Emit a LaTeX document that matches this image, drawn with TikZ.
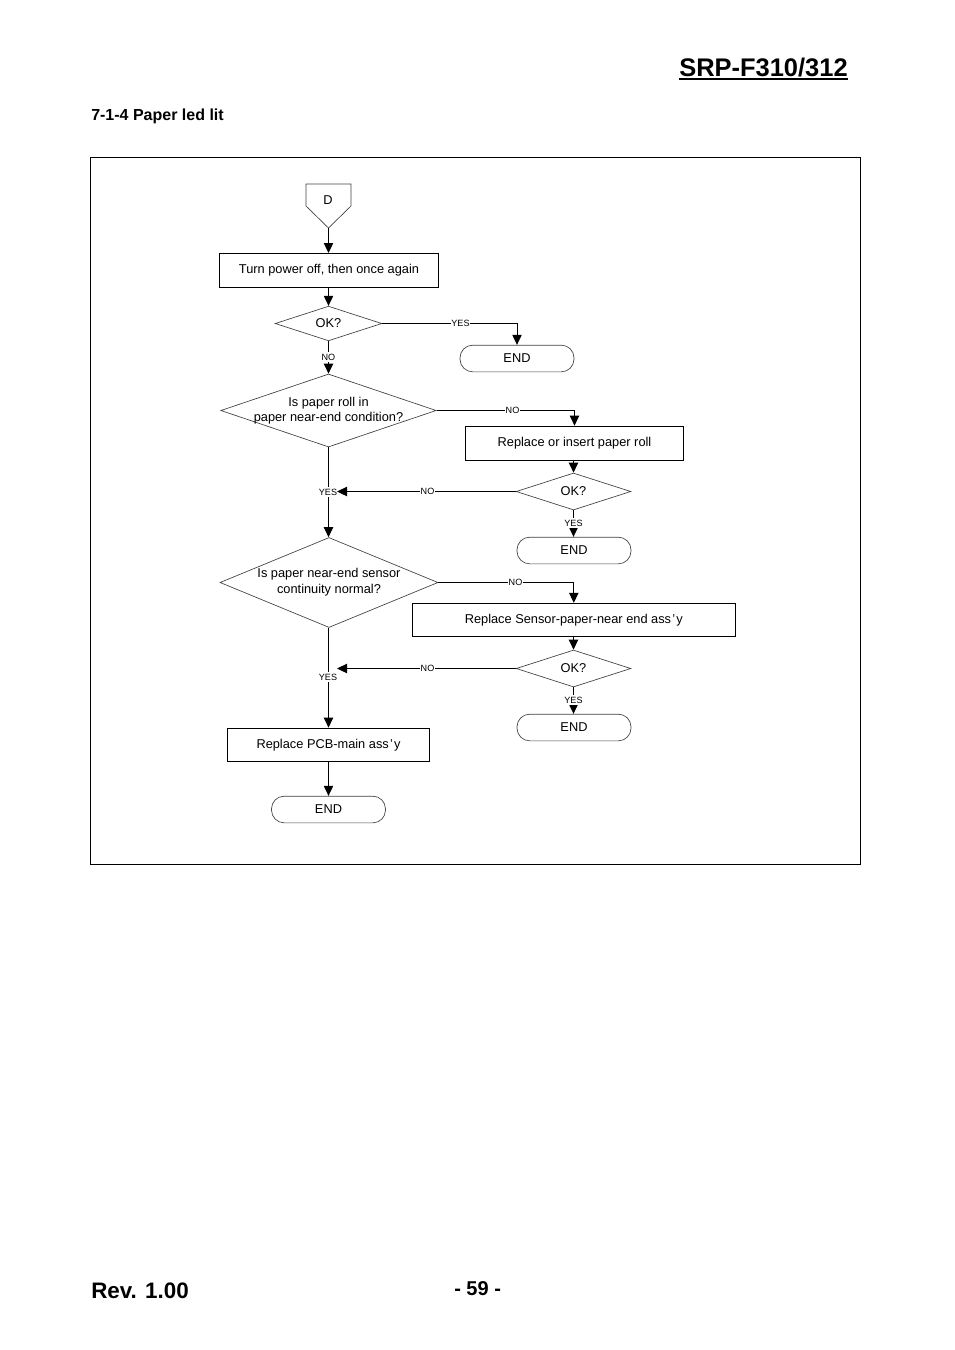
\documentclass[tikz,border=0pt]{standalone}
\usepackage{fontspec}
\setmainfont{Liberation Sans}
\usetikzlibrary{arrows.meta,shapes.geometric}
\newcommand{\up}[1]{\raisebox{1.5pt}{#1}}
\newcommand{\upe}[1]{\raisebox{0.8pt}{#1}}
\newcommand{\ay}{ass\kern0.9pt’\kern0.9pt y}
\tikzset{
  x=0.75pt,y=-0.75pt,
  txt/.style={font=\fontsize{9.6pt}{11.6pt}\selectfont,align=center,inner sep=0pt},
  boxn/.style={draw=black,line width=0.75pt,rectangle,inner sep=0pt,font=\fontsize{9.6pt}{11.6pt}\selectfont},
  term/.style={draw=black!75,line width=0.5pt,rectangle,rounded corners=9.5pt,inner sep=0pt,minimum width=85.5pt,minimum height=20pt,font=\fontsize{9.6pt}{11.6pt}\selectfont},
  dia/.style={draw=black!75,line width=0.5pt,diamond,inner sep=0pt,font=\fontsize{9.6pt}{11.6pt}\selectfont},
  okdia/.style={dia,shape aspect=3.1,minimum width=86pt,minimum height=27.75pt},
  oksmall/.style={dia,shape aspect=3.05,minimum width=80pt,minimum height=26pt},
  lab/.style={font=\fontsize{6.8pt}{8pt}\selectfont,fill=white,inner xsep=0.3pt,inner ysep=1pt},
  conn/.style={draw=black,line width=0.75pt,-{Triangle[length=7.5pt,width=7pt]}},
  head/.style={font=\bfseries,inner sep=0pt},
}
\begin{document}
\begin{tikzpicture}
\useasboundingbox (0,0) rectangle (954,1350);
% page texts
\node[head,anchor=base west,font=\fontsize{19.1pt}{22pt}\selectfont\bfseries] (title) at (679,76.3) {SRP-F310/312};
\draw[line width=1.4pt] ([yshift=-2.2pt]title.base west) -- ([yshift=-2.2pt]title.base east);
\node[head,anchor=base west,font=\fontsize{12pt}{14pt}\selectfont\bfseries] (sect) at (91,120) {7-1-4 Paper led lit};
\node[head,anchor=base west,font=\fontsize{16.8pt}{20pt}\selectfont\bfseries] (rev) at (91,1298.5) {Rev. 1.00};
\node[head,anchor=base west,font=\fontsize{15pt}{17pt}\selectfont\bfseries] (pg) at (454,1295) {- 59 -};
% frame
\node[draw=black,line width=0.5pt,rectangle,inner sep=0pt,minimum width=577.6pt,minimum height=530.6pt] (frame) at (475.3,510.8) {};
% start
\draw[draw=black!75,line width=0.5pt] (306,184) -- (351,184) -- (351,206) -- (328.5,228) -- (306,206) -- cycle;
\coordinate (dtip) at (328.5,228);
\node[txt] (d) at (328,200) {D};
% boxes
\node[boxn,minimum width=164.5pt,minimum height=25.5pt] (turn) at (329,270.5) {\up{Turn power off, then once again}};
\node[oksmall] (ok1) at (328.5,323.5) {OK?};
\node[term] (end1) at (517,358.5) {\upe{END}};
\node[dia,shape aspect=2.95,minimum width=161.5pt,minimum height=54.75pt,
  label={[txt]center:{\raisebox{1.9pt}{\begin{tabular}{@{}c@{}}Is paper roll in\\[-0.4pt]paper near-end condition?\end{tabular}}}}] (q1) at (328.5,410.5) {};
\node[boxn,minimum width=164pt,minimum height=26pt] (rep1) at (574.5,443.5) {\up{Replace or insert paper roll}};
\node[okdia] (ok2) at (573.5,491.5) {\upe{OK?}};
\node[term] (end2) at (574,550.5) {\upe{END}};
\node[dia,shape aspect=2.42,minimum width=163.5pt,minimum height=67.5pt,
  label={[txt]center:{\raisebox{1.8pt}{\begin{tabular}{@{}c@{}}Is paper near-end sensor\\[0.5pt]continuity normal?\end{tabular}}}}] (q2) at (329,582.5) {};
\node[boxn,minimum width=242.5pt,minimum height=25pt] (rep2) at (573.8,620) {\up{Replace Sensor-paper-near end \ay}};
\node[okdia] (ok3) at (573.5,668.5) {\upe{OK?}};
\node[term] (end3) at (574,727.5) {\upe{END}};
\node[boxn,minimum width=152pt,minimum height=25.25pt] (rep3) at (328.5,745) {\up{Replace PCB-main \ay}};
\node[term] (end4) at (328.5,809.5) {\upe{END}};
% free ends
\coordinate (m1) at (337,491.5);
\coordinate (m2) at (337,668.5);
% connectors
\draw[conn] (dtip) -- (turn.north -| dtip);
\draw[conn] (turn.south -| ok1.north) -- (ok1.north);
\draw[conn] (ok1.east) -| (end1.north);
\draw[conn] (ok1.south) -- (q1.north);
\draw[conn] (q1.east) -| (rep1.north);
\draw[conn] (q1.south) -- (q2.north -| q1.south);
\draw[conn] (rep1.south -| ok2.north) -- (ok2.north);
\draw[conn] (ok2.west) -- (m1);
\draw[conn] (ok2.south) -- (end2.north -| ok2.south);
\draw[conn] (q2.east) -| (rep2.north);
\draw[conn] (rep2.south -| ok3.north) -- (ok3.north);
\draw[conn] (ok3.west) -- (m2);
\draw[conn] (ok3.south) -- (end3.north -| ok3.south);
\draw[conn] (q2.south -| rep3.north) -- (rep3.north);
\draw[conn] (rep3.south) -- (end4.north);
% labels
\node[lab] (l1) at (460.5,323) {YES};
\node[lab] (l2) at (328.5,357) {NO};
\node[lab] (l3) at (512.5,410) {NO};
\node[lab] (l4) at (427.5,491) {NO};
\node[lab] (l5) at (328,492) {YES};
\node[lab] (l6) at (573.5,523) {YES};
\node[lab] (l7) at (515.5,582) {NO};
\node[lab] (l8) at (427.5,668) {NO};
\node[lab] (l9) at (328,677) {YES};
\node[lab] (l10) at (573.5,700) {YES};
\end{tikzpicture}
\end{document}
